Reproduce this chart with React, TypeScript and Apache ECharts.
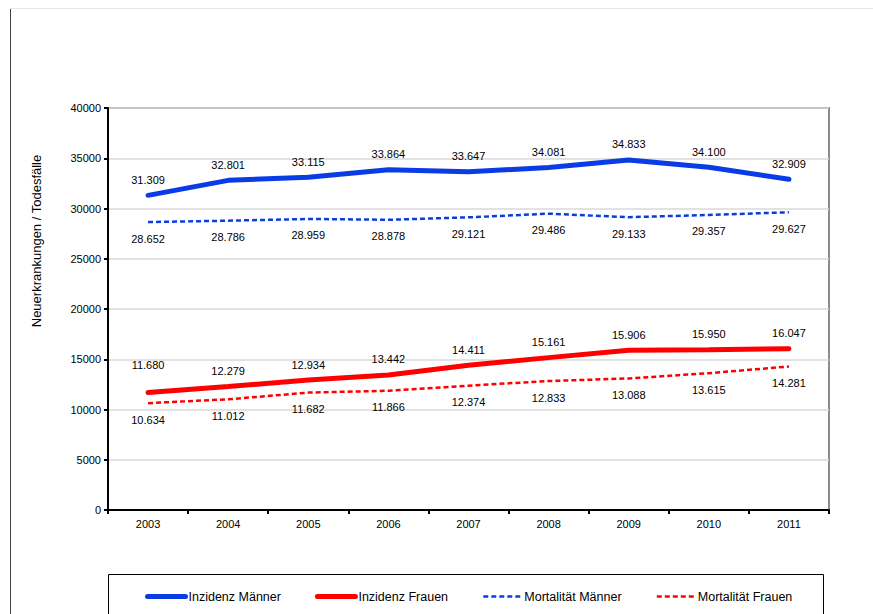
import React, { useEffect, useRef } from "react";
import * as echarts from "echarts";

const years = ["2003", "2004", "2005", "2006", "2007", "2008", "2009", "2010", "2011"];
const inzidenzMaenner = [31309, 32801, 33115, 33864, 33647, 34081, 34833, 34100, 32909];
const inzidenzFrauen = [11680, 12279, 12934, 13442, 14411, 15161, 15906, 15950, 16047];
const mortalitaetMaenner = [28652, 28786, 28959, 28878, 29121, 29486, 29133, 29357, 29627];
const mortalitaetFrauen = [10634, 11012, 11682, 11866, 12374, 12833, 13088, 13615, 14281];

const fmt = (v: number) => {
  const s = String(Math.round(v));
  return s.length > 3 ? s.slice(0, s.length - 3) + "." + s.slice(s.length - 3) : s;
};

const FONT = "Liberation Sans, Arial, sans-serif";

export default function App() {
  const ref = useRef<HTMLDivElement>(null);
  useEffect(() => {
    if (!ref.current) return;
    const chart = echarts.init(ref.current, undefined, { renderer: "svg" });
    const label = (pos: "top" | "bottom", dist: number) => ({
      show: true,
      position: pos,
      distance: dist,
      fontFamily: FONT,
      fontSize: 11,
      color: "#000",
      formatter: (p: any) => fmt(p.value),
    });
    const common = {
      type: "line",
      showSymbol: true,
      symbol: "circle",
      symbolSize: 0.01,
      emphasis: { disabled: true },
    };
    chart.setOption({
      animation: false,
      textStyle: { fontFamily: FONT },
      grid: {
        left: 108,
        right: 44,
        top: 108,
        bottom: 104,
        show: true,
        borderColor: "#8c8c8c",
        borderWidth: 2,
        backgroundColor: "transparent",
      },
      xAxis: {
        type: "category",
        data: years,
        boundaryGap: true,
        axisLine: { lineStyle: { color: "#000", width: 2 } },
        axisTick: { show: true, length: 4, lineStyle: { color: "#000", width: 2 } },
        axisLabel: { color: "#000", fontSize: 11, fontFamily: FONT, margin: 8 },
        splitLine: { show: false },
      },
      yAxis: {
        type: "value",
        min: 0,
        max: 40000,
        interval: 5000,
        axisLine: { show: true, lineStyle: { color: "#000", width: 2 } },
        axisTick: { show: true, length: 4, lineStyle: { color: "#000", width: 2 } },
        axisLabel: {
          color: "#000",
          fontSize: 11,
          fontFamily: FONT,
          margin: 7,
          formatter: (v: number) => String(v),
        },
        splitLine: { show: true, lineStyle: { color: "#d9d9d9", width: 1.5 } },
      },
      legend: {
        left: 145,
        top: 590,
        padding: 0,
        itemGap: 34,
        itemWidth: 38,
        itemHeight: 10,
        itemStyle: { opacity: 0 },
        lineStyle: { width: "inherit" },
        textStyle: { color: "#000", fontSize: 12.5, fontFamily: FONT, padding: [0, 0, 0, -2] },
        data: ["Inzidenz Männer", "Inzidenz Frauen", "Mortalität Männer", "Mortalität Frauen"],
      },
      graphic: [
        {
          type: "line",
          shape: { x1: 10, y1: 8.5, x2: 873, y2: 8.5 },
          style: { stroke: "#e6e6e6", lineWidth: 1 },
        },
        {
          type: "line",
          shape: { x1: 10.5, y1: 9, x2: 10.5, y2: 614 },
          style: { stroke: "#444", lineWidth: 1 },
        },
        {
          type: "rect",
          shape: { x: 108.5, y: 574.5, width: 715, height: 60 },
          style: { fill: "transparent", stroke: "#000", lineWidth: 1 },
          z: -1,
        },
        {
          type: "text",
          x: 36,
          y: 241,
          rotation: Math.PI / 2,
          style: {
            text: "Neuerkrankungen / Todesfälle",
            fontFamily: FONT,
            fontSize: 13,
            fill: "#000",
            align: "center",
            verticalAlign: "middle",
          },
        },
      ],
      series: [
        {
          ...common,
          name: "Inzidenz Männer",
          data: inzidenzMaenner,
          lineStyle: { color: "#0a3ce6", width: 5, cap: "round" },
          itemStyle: { color: "#0a3ce6" },
          label: label("top", 10),
        },
        {
          ...common,
          name: "Inzidenz Frauen",
          data: inzidenzFrauen.map((v, i) =>
            i === 0 ? { value: v, label: { distance: 22 } } : v
          ),
          lineStyle: { color: "#ff0000", width: 5, cap: "round" },
          itemStyle: { color: "#ff0000" },
          label: label("top", 10),
        },
        {
          ...common,
          name: "Mortalität Männer",
          data: mortalitaetMaenner,
          lineStyle: { color: "#0a3ce6", width: 2.5, type: [5, 3] },
          itemStyle: { color: "#0a3ce6" },
          label: label("bottom", 11),
        },
        {
          ...common,
          name: "Mortalität Frauen",
          data: mortalitaetFrauen,
          lineStyle: { color: "#ff0000", width: 2.5, type: [5, 3] },
          itemStyle: { color: "#ff0000" },
          label: label("bottom", 11),
        },
      ],
    });
    return () => chart.dispose();
  }, []);
  return (
    <div
      ref={ref}
      style={{ position: "absolute", left: 0, top: 0, width: 873, height: 614, background: "#fff" }}
    />
  );
}
